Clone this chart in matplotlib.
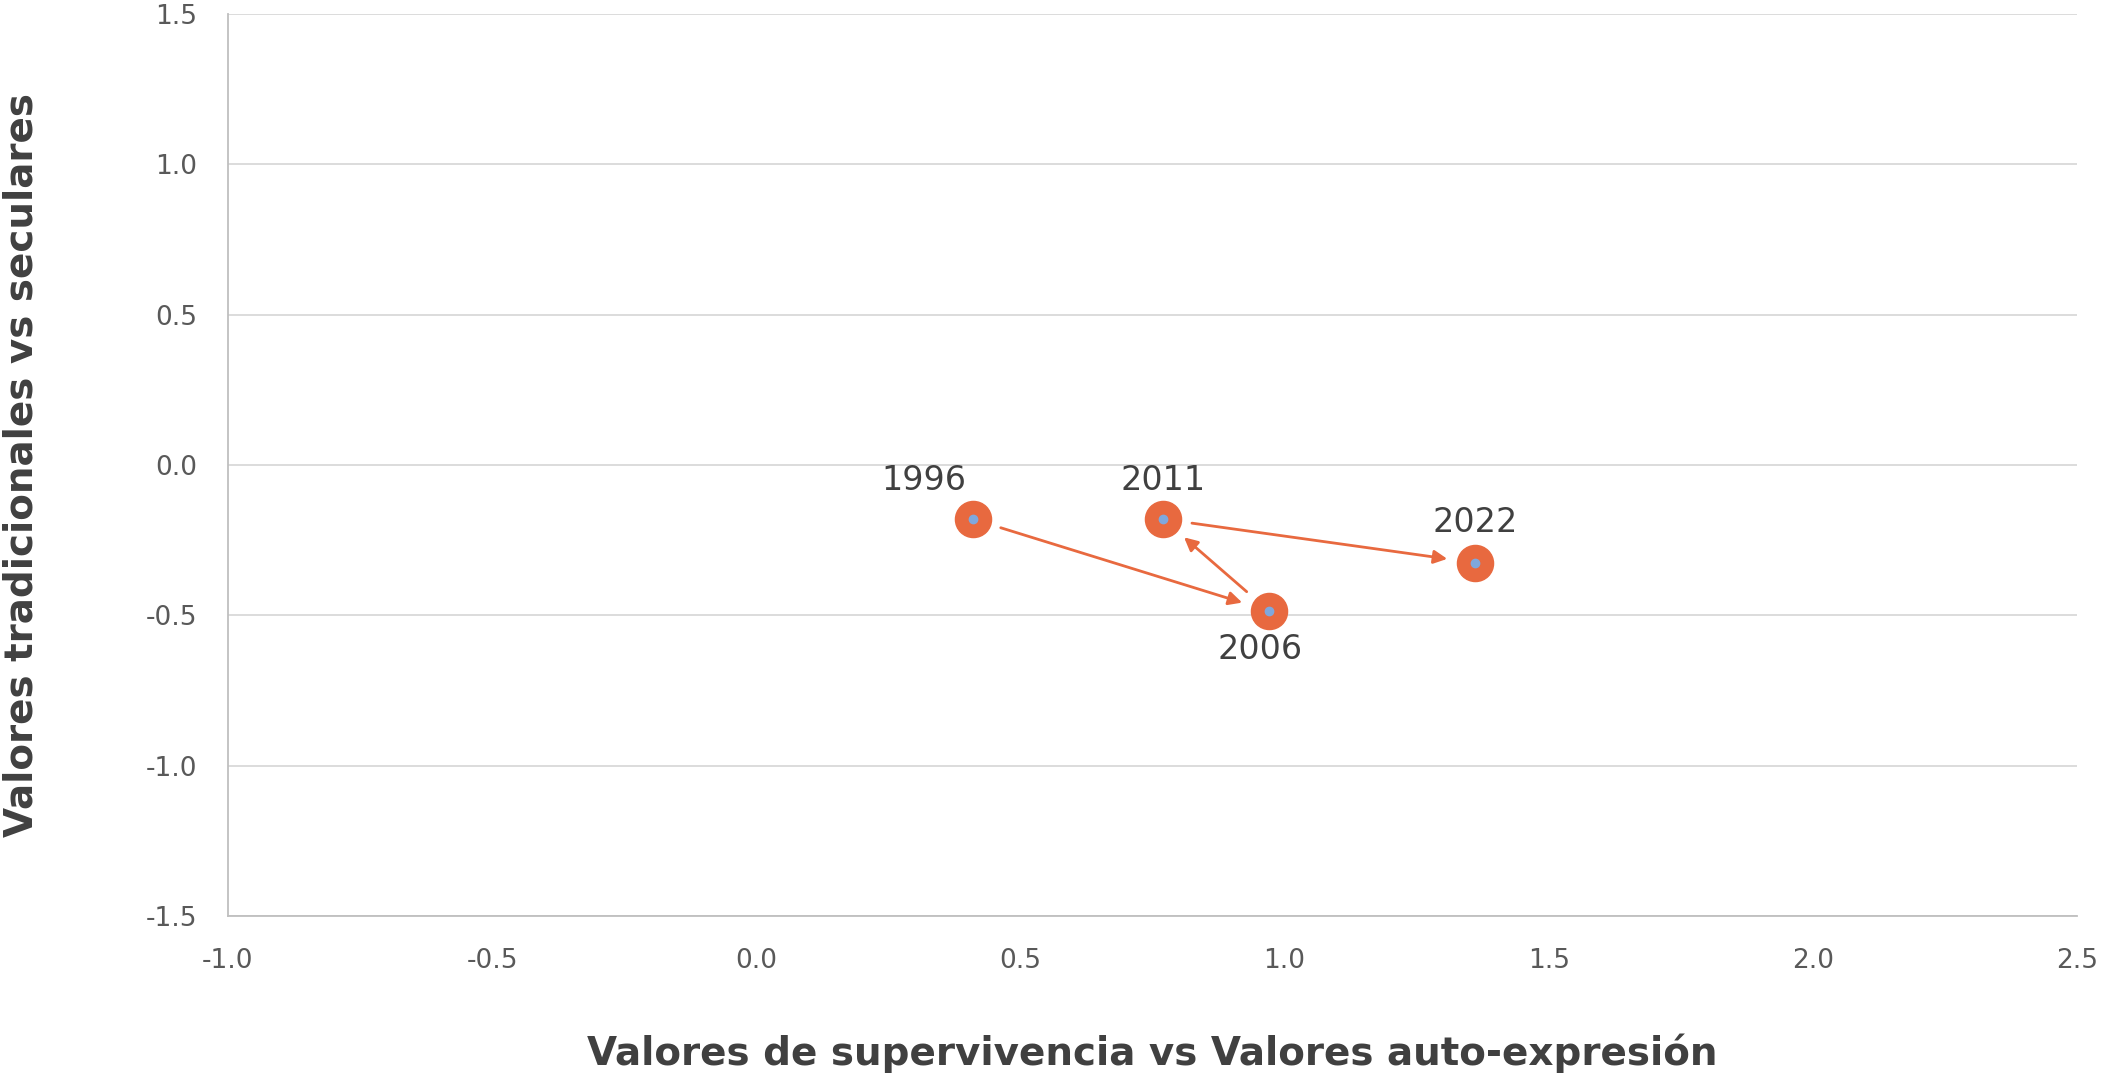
import matplotlib.pyplot as plt

# data
years = ["1996", "2006", "2011", "2022"]
x_vals = [0.41, 0.97, 0.77, 1.36]
y_vals = [-0.18, -0.485, -0.18, -0.325]
# label offsets in points (dx, dy)
label_off = [(-35, 28), (-6, -28), (0, 28), (0, 29)]
x_ticks = [-1.0, -0.5, 0.0, 0.5, 1.0, 1.5, 2.0, 2.5]
y_ticks = [-1.5, -1.0, -0.5, 0.0, 0.5, 1.0, 1.5]

orange = "#E8693F"
blue = "#7FA8DD"
grey_txt = "#595959"
dark_txt = "#404040"

plt.rcParams["font.family"] = ["DejaVu Sans"]

fig = plt.figure(figsize=(21.01, 10.73), dpi=100)
ax = fig.add_axes([0.1085, 0.1463, 0.8801, 0.8407])

ax.set_xlim(-1.0, 2.5)
ax.set_ylim(-1.5, 1.5)
ax.set_xticks(x_ticks)
ax.set_yticks(y_ticks)
ax.set_xticklabels([f"{t:.1f}" for t in x_ticks])
ax.set_yticklabels([f"{t:.1f}" for t in y_ticks])
ax.tick_params(length=0, labelsize=19, labelcolor=grey_txt)
ax.tick_params(axis="y", pad=22)
ax.tick_params(axis="x", pad=23)

ax.grid(axis="y", color="#D9D9D9", linewidth=1.3)
ax.set_axisbelow(True)
for s in ["top", "right"]:
    ax.spines[s].set_visible(False)
for s in ["left", "bottom"]:
    ax.spines[s].set_color("#BFBFBF")
    ax.spines[s].set_linewidth(1.3)

# arrows between consecutive years
for i in range(len(x_vals) - 1):
    ax.annotate("", xy=(x_vals[i + 1], y_vals[i + 1]), xytext=(x_vals[i], y_vals[i]),
                arrowprops=dict(arrowstyle="-|>", color=orange, lw=2,
                                mutation_scale=20, shrinkA=21, shrinkB=20))

ax.plot(x_vals, y_vals, linestyle="none", marker="o", markersize=26,
        markerfacecolor=orange, markeredgecolor=orange, zorder=3)
ax.plot(x_vals, y_vals, linestyle="none", marker="o", markersize=6,
        markerfacecolor=blue, markeredgecolor=blue, zorder=4)

for yr, x, y, off in zip(years, x_vals, y_vals, label_off):
    ax.annotate(yr, (x, y), xytext=off, textcoords="offset points",
                ha="center", va="center", fontsize=24, color=dark_txt)

ax.set_xlabel("Valores de supervivencia vs Valores auto-expresión",
              fontsize=28, fontweight="bold", color=dark_txt, labelpad=43)
ax.set_ylabel("Valores tradicionales vs seculares",
              fontsize=28, fontweight="bold", color=dark_txt, labelpad=76)

fig.savefig("out.png", dpi=100)
